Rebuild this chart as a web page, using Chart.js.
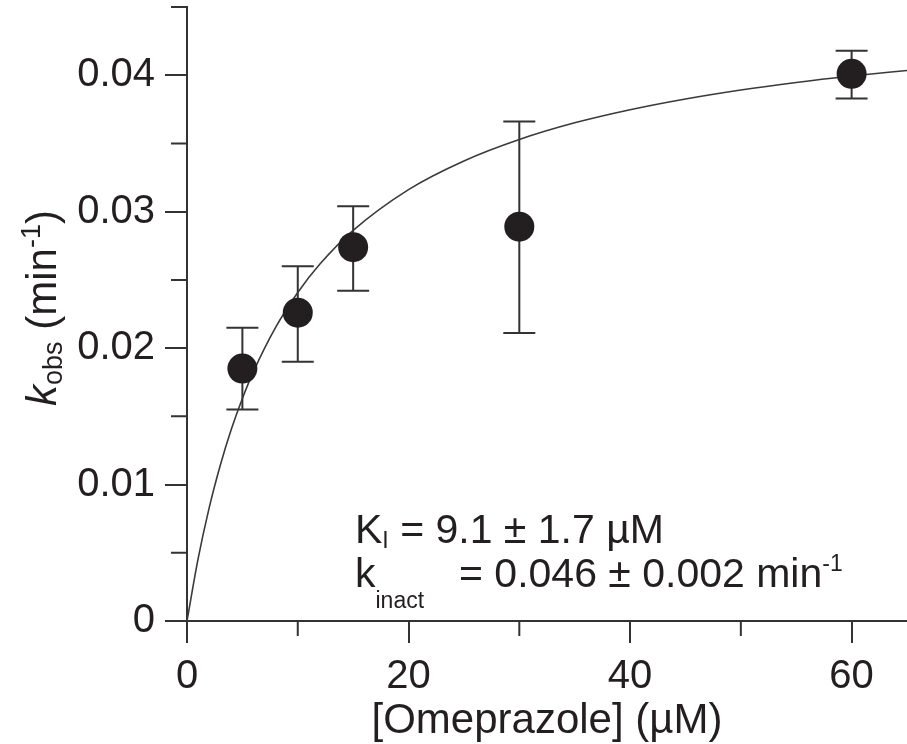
<!DOCTYPE html>
<html>
<head>
<meta charset="utf-8">
<script src="https://cdn.jsdelivr.net/npm/chart.js@4.4.1/dist/chart.umd.min.js"></script>
<style>
  html, body { margin: 0; padding: 0; background: #fff; }
  #wrap { width: 907px; height: 744px; }
</style>
</head>
<body>
<div id="wrap"><canvas id="kobsChart" width="907" height="744"></canvas></div>
<script>
// measured kobs values with error bars
const conc = [5, 10, 15, 30, 60];
const kobs = [0.0185, 0.0226, 0.0274, 0.0289, 0.0401];
const kobsLow = [0.0155, 0.0190, 0.0242, 0.0211, 0.0383];
const kobsHigh = [0.0215, 0.0260, 0.0304, 0.0366, 0.0418];

// fitted curve
const fitConc = [0, 1, 2, 3, 4, 5, 6, 8, 10, 12, 15, 20, 25, 30, 35, 40, 45, 50, 55, 60, 65];
const fitKobs = [0, 0.00455, 0.00829, 0.0114, 0.01405, 0.01631, 0.01828, 0.02152, 0.02408, 0.02616,
  0.02863, 0.03162, 0.03372, 0.03529, 0.03651, 0.03747, 0.03826, 0.03892, 0.03947, 0.03994, 0.04035];

const xTicks = [0, 10, 20, 30, 40, 50, 60];
const xTickLabels = ['0', '', '20', '', '40', '', '60'];
const yTicks = [0, 0.005, 0.01, 0.015, 0.02, 0.025, 0.03, 0.035, 0.04, 0.045];
const yTickLabels = ['0', '', '0.01', '', '0.02', '', '0.03', '', '0.04', ''];

const FONT = "'Liberation Sans', Arial, Helvetica, sans-serif";
const INK = '#231f20';
const AXIS = '#333333';

function labelFor(ticks, labels, v) {
  const i = ticks.findIndex(t => Math.abs(t - v) < 1e-9);
  return i < 0 ? '' : labels[i];
}

// draw text made of several runs (for sub/superscripts)
function runsWidth(ctx, runs) {
  let w = 0;
  runs.forEach(r => { ctx.font = r.font; w += ctx.measureText(r.text).width; });
  return w;
}
function drawRuns(ctx, x, y, runs) {
  runs.forEach(r => {
    ctx.font = r.font;
    ctx.fillText(r.text, x, y + (r.dy || 0));
    x += ctx.measureText(r.text).width;
  });
}

const errorBars = {
  id: 'errorBars',
  beforeDatasetsDraw(chart) {
    const ctx = chart.ctx, xs = chart.scales.x, ys = chart.scales.y;
    ctx.save();
    ctx.strokeStyle = AXIS;
    ctx.lineWidth = 2;
    conc.forEach((c, i) => {
      const px = xs.getPixelForValue(c);
      const lo = ys.getPixelForValue(kobsLow[i]);
      const hi = ys.getPixelForValue(kobsHigh[i]);
      ctx.beginPath();
      ctx.moveTo(px, lo); ctx.lineTo(px, hi);
      ctx.moveTo(px - 16, lo); ctx.lineTo(px + 16, lo);
      ctx.moveTo(px - 16, hi); ctx.lineTo(px + 16, hi);
      ctx.stroke();
    });
    ctx.restore();
  }
};

const minorTicksAndText = {
  id: 'minorTicksAndText',
  afterDraw(chart) {
    const ctx = chart.ctx, xs = chart.scales.x, ys = chart.scales.y;
    const area = chart.chartArea;
    ctx.save();
    ctx.strokeStyle = AXIS;
    ctx.lineWidth = 2;
    ctx.beginPath();
    xTicks.forEach((v, i) => {
      if (xTickLabels[i] !== '') return;
      const px = xs.getPixelForValue(v);
      ctx.moveTo(px, area.bottom); ctx.lineTo(px, area.bottom + 15);
    });
    yTicks.forEach((v, i) => {
      if (yTickLabels[i] !== '') return;
      const py = ys.getPixelForValue(v);
      ctx.moveTo(area.left - 16, py); ctx.lineTo(area.left, py);
    });
    ctx.stroke();

    ctx.fillStyle = INK;
    ctx.textBaseline = 'alphabetic';
    ctx.textAlign = 'left';

    // x title
    ctx.font = '42px ' + FONT;
    const xt = '[Omeprazole] (\u00b5M)';
    ctx.fillText(xt, (area.left + area.right) / 2 - ctx.measureText(xt).width / 2, 733);

    // y title
    const big = '42px ' + FONT, small = '27px ' + FONT;
    const yRuns = [
      { text: 'k', font: 'italic ' + big },
      { text: 'obs', font: small, dy: 6 },
      { text: ' (min', font: big },
      { text: '-1', font: small, dy: -16 },
      { text: ')', font: big }
    ];
    ctx.save();
    ctx.translate(56, 308);
    ctx.rotate(-Math.PI / 2);
    drawRuns(ctx, -runsWidth(ctx, yRuns) / 2, 0, yRuns);
    ctx.restore();

    // fit parameters
    const ann = '41px ' + FONT, annSmall = '23px ' + FONT;
    drawRuns(ctx, 355, 543, [
      { text: 'K', font: ann },
      { text: 'I', font: annSmall, dy: 5 },
      { text: ' = 9.1 \u00b1 1.7 \u00b5M', font: ann }
    ]);
    drawRuns(ctx, 355, 587, [
      { text: 'k', font: ann },
      { text: 'inact', font: annSmall, dy: 21 }
    ]);
    drawRuns(ctx, 459, 587, [
      { text: '= 0.046 \u00b1 0.002 min', font: ann },
      { text: '-1', font: annSmall, dy: -16 }
    ]);
    ctx.restore();
  }
};

new Chart(document.getElementById('kobsChart'), {
  type: 'scatter',
  data: {
    datasets: [{
      label: 'kobs',
      data: conc.map((c, i) => ({ x: c, y: kobs[i] })),
      backgroundColor: INK,
      borderWidth: 0,
      pointRadius: 15,
      order: 0
    }, {
      label: 'fit',
      data: fitConc.map((c, i) => ({ x: c, y: fitKobs[i] })),
      showLine: true,
      borderColor: '#3a3a3a',
      borderWidth: 1.6,
      pointRadius: 0,
      cubicInterpolationMode: 'monotone',
      order: 1
    }]
  },
  options: {
    responsive: false,
    animation: false,
    devicePixelRatio: 1,
    layout: { autoPadding: false, padding: { top: 7, right: 0, left: 0, bottom: 0 } },
    plugins: { legend: { display: false }, tooltip: { enabled: false } },
    scales: {
      x: {
        type: 'linear',
        min: 0,
        max: 65,
        afterBuildTicks: s => { s.ticks = xTicks.map(v => ({ value: v })); },
        afterFit: s => { s.height = 123; s.paddingLeft = 0; s.paddingRight = 0; },
        border: { display: true, color: AXIS, width: 2 },
        grid: {
          drawOnChartArea: false,
          tickLength: 22,
          lineWidth: 2,
          tickWidth: 2,
          tickColor: c => labelFor(xTicks, xTickLabels, c.tick.value) ? AXIS : 'rgba(0,0,0,0)'
        },
        ticks: {
          autoSkip: false,
          maxRotation: 0,
          padding: 10,
          color: INK,
          font: { family: FONT, size: 40 },
          callback: v => labelFor(xTicks, xTickLabels, v)
        }
      },
      y: {
        type: 'linear',
        min: 0,
        max: 0.045,
        afterBuildTicks: s => { s.ticks = yTicks.map(v => ({ value: v })); },
        afterFit: s => { s.width = 187; s.paddingTop = 0; s.paddingBottom = 0; },
        border: { display: true, color: AXIS, width: 2 },
        grid: {
          drawOnChartArea: false,
          tickLength: 22,
          lineWidth: 2,
          tickWidth: 2,
          tickColor: c => labelFor(yTicks, yTickLabels, c.tick.value) ? AXIS : 'rgba(0,0,0,0)'
        },
        ticks: {
          autoSkip: false,
          padding: 10,
          color: INK,
          font: { family: FONT, size: 40 },
          callback: v => labelFor(yTicks, yTickLabels, v)
        }
      }
    }
  },
  plugins: [errorBars, minorTicksAndText]
});
</script>
</body>
</html>
